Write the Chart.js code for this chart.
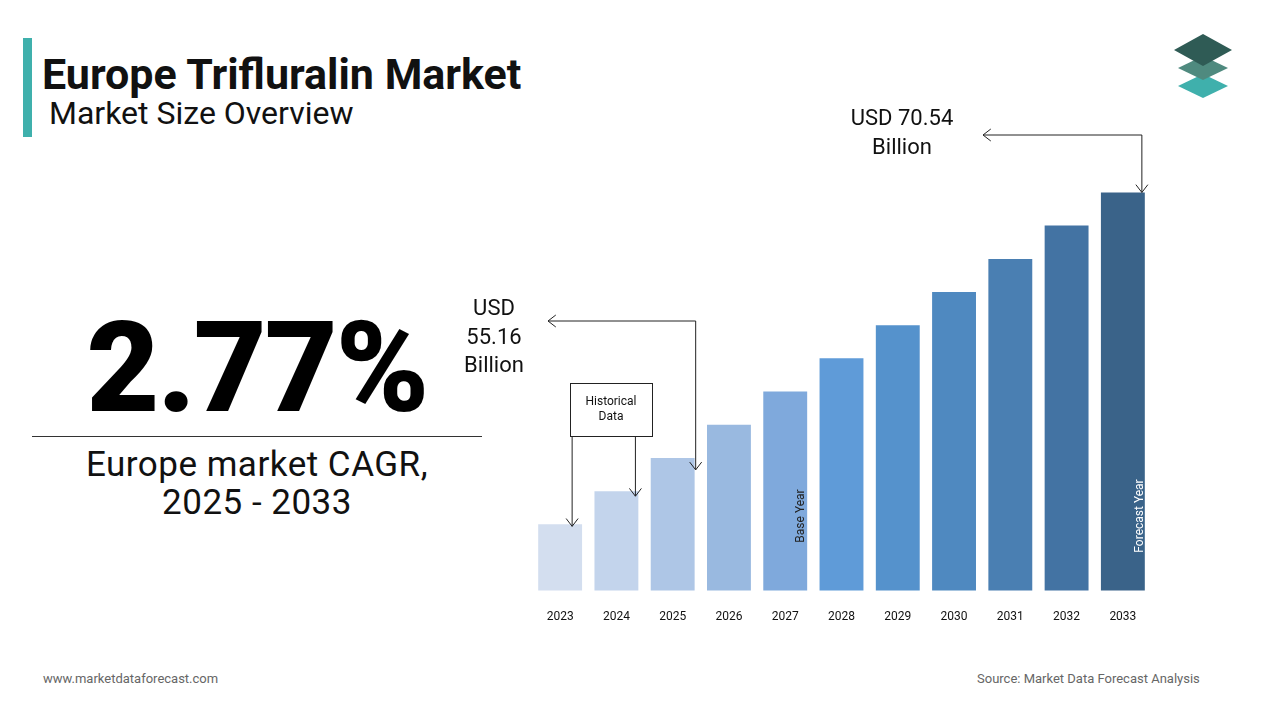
<!DOCTYPE html>
<html><head><meta charset="utf-8">
<script src="https://cdn.jsdelivr.net/npm/chart.js@4/dist/chart.umd.min.js"></script>
<style>
body{margin:0;width:1280px;height:720px;background:#fff;font-family:Roboto,"Open Sans",sans-serif;position:relative;overflow:hidden}
.abs{position:absolute}
</style></head><body>
<div class="abs" style="left:23px;top:38px;width:9px;height:99px;background:#3fb0ac"></div>
<div class="abs" style="left:42px;top:49px;font-size:43px;font-weight:700;color:#111;white-space:nowrap">Europe Trifluralin Market</div>
<div class="abs" style="left:49px;top:94px;font-size:32px;color:#111;white-space:nowrap">Market Size Overview</div>
<div class="abs" style="left:32px;top:294px;width:450px;text-align:center;font-size:126px;font-weight:900;color:#000;letter-spacing:-2px">2.77%</div>
<div class="abs" style="left:32px;top:436px;width:450px;height:1px;background:#333"></div>
<div class="abs" style="left:12px;top:446px;width:490px;text-align:center;font-size:35px;color:#111;line-height:38px;letter-spacing:0.5px">Europe market CAGR,<br>2025 - 2033</div>
<div class="abs" style="left:43px;top:671px;font-size:13px;color:#666">www.marketdataforecast.com</div>
<div class="abs" style="left:977px;top:671px;font-size:13px;color:#666">Source: Market Data Forecast Analysis</div>
<svg class="abs" style="left:1168px;top:32px" width="70" height="70">
<polygon points="35,42 60,54 35,66 10,54" fill="#3fb0ac"/>
<polygon points="35,24 60,36 35,48 10,36" fill="#4f8a7f"/>
<polygon points="35,2 64,18 35,34 6,18" fill="#2f5b55"/>
</svg>
<div class="abs" style="left:440px;top:80px;width:720px;height:568px"><canvas id="c"></canvas></div>
<script>
const years=["2023","2024","2025","2026","2027","2028","2029","2030","2031","2032","2033"];
const values=[51.31,53.23,55.16,57.08,59.00,60.93,62.85,64.77,66.69,68.62,70.54];
const colors=["#d3deef","#c3d4ec","#aec6e6","#99b9e0","#7fa9dc","#5f9bd8","#5592cc","#4f89c0","#4a7fb2","#4373a3","#3a6389"];
const OX=440,OY=80;
function arrow(ctx,x,y,dir){ctx.beginPath();const s=6;
 if(dir==='down'){ctx.moveTo(x-s,y-s*1.3);ctx.lineTo(x,y);ctx.lineTo(x+s,y-s*1.3);}
 else {ctx.moveTo(x+s*1.3,y-s);ctx.lineTo(x,y);ctx.lineTo(x+s*1.3,y+s);}
 ctx.stroke();}
const deco={id:'deco',afterDatasetsDraw(ch){
 const ctx=ch.ctx,m=ch.getDatasetMeta(0).data;ctx.save();
 ctx.strokeStyle='#222';ctx.lineWidth=1;
 const b2=m[2];const x2=b2.x+23,yl=321-OY,xl=548-OX;
 ctx.beginPath();ctx.moveTo(x2,b2.y+12);ctx.lineTo(x2,yl);ctx.lineTo(xl,yl);ctx.stroke();
 arrow(ctx,x2,b2.y+12,'down');arrow(ctx,xl,yl,'left');
 const b10=m[10];const x10=b10.x+19,yt=135-OY,xt=983-OX;
 ctx.beginPath();ctx.moveTo(x10,b10.y);ctx.lineTo(x10,yt);ctx.lineTo(xt,yt);ctx.stroke();
 arrow(ctx,x10,b10.y,'down');arrow(ctx,xt,yt,'left');
 const bx=570-OX,by=383-OY;
 ctx.fillStyle='#fff';ctx.fillRect(bx,by,82,53);ctx.strokeRect(bx+0.5,by+0.5,82,53);
 ctx.fillStyle='#111';ctx.font='12px Roboto';ctx.textAlign='center';ctx.textBaseline='middle';
 ctx.fillText('Historical',bx+41,by+19);ctx.fillText('Data',bx+41,by+34);
 ctx.beginPath();ctx.moveTo(m[0].x+12,by+53);ctx.lineTo(m[0].x+12,m[0].y+2);ctx.stroke();arrow(ctx,m[0].x+12,m[0].y+2,'down');
 ctx.beginPath();ctx.moveTo(m[1].x+19,by+53);ctx.lineTo(m[1].x+19,m[1].y+5);ctx.stroke();arrow(ctx,m[1].x+19,m[1].y+5,'down');
 ctx.font='22px Roboto';ctx.fillStyle='#111';
 ctx.fillText('USD',494-OX,309-OY);ctx.fillText('55.16',494-OX,338-OY);ctx.fillText('Billion',494-OX,366-OY);
 ctx.fillText('USD 70.54',902-OX,119-OY);ctx.fillText('Billion',902-OX,148-OY);
 ctx.font='12px Roboto';
 ctx.save();ctx.translate(m[4].x+16,516-OY);ctx.rotate(-Math.PI/2);ctx.fillStyle='#222';ctx.fillText('Base Year',0,0);ctx.restore();
 ctx.save();ctx.translate(m[10].x+17,516-OY);ctx.rotate(-Math.PI/2);ctx.fillStyle='#fff';ctx.fillText('Forecast Year',0,0);ctx.restore();
 ctx.restore();}};
new Chart(document.getElementById('c'),{type:'bar',
 data:{labels:years,datasets:[{data:values,backgroundColor:colors,categoryPercentage:1,barPercentage:0.78}]},
 options:{responsive:true,maintainAspectRatio:false,animation:false,
  layout:{padding:{left:92,right:9,top:70,bottom:13}},
  plugins:{legend:{display:false},tooltip:{enabled:false}},
  scales:{x:{grid:{display:false},border:{display:false},ticks:{color:'#111',font:{size:12,family:'Roboto'},padding:11}},
   y:{display:false,min:47.47,max:73}}},
 plugins:[deco]});
</script></body></html>
